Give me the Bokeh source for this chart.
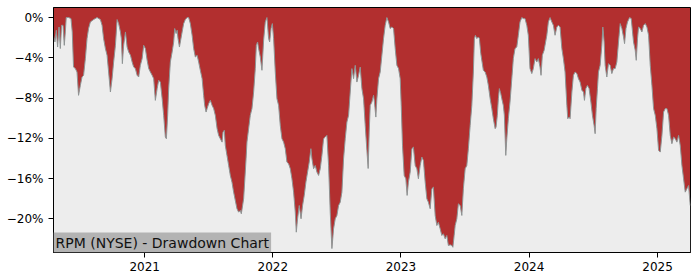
from datetime import datetime
from bokeh.plotting import figure
from bokeh.models import FixedTicker, Label, ColumnDataSource, Range1d
from bokeh.embed import file_html
from bokeh.resources import INLINE

# ---- data: dates as decimal years, drawdown in percent ----
t2020 = [2020.290, 2020.301, 2020.312, 2020.322, 2020.333, 2020.343, 2020.353, 2020.364, 2020.374, 2020.382,
         2020.389, 2020.407, 2020.426, 2020.436, 2020.446, 2020.460, 2020.473, 2020.485, 2020.499, 2020.512,
         2020.524, 2020.538, 2020.551, 2020.563, 2020.577, 2020.602, 2020.629, 2020.655, 2020.668, 2020.680,
         2020.694, 2020.707, 2020.719, 2020.733, 2020.746, 2020.758, 2020.772, 2020.785, 2020.797, 2020.811,
         2020.818, 2020.826, 2020.836, 2020.850, 2020.863, 2020.875, 2020.889, 2020.902, 2020.914, 2020.927,
         2020.941, 2020.953, 2020.966, 2020.980, 2020.992]
d2020 = [-1.76, -2.43, -1.26, -2.93, -0.94, -3.08, -0.77, -0.77, -2.76, -1.43,
         0, 0, -0.10, -1.43, -4.92, -5.07, -5.41, -7.73, -6.74, -5.91,
         -5.74, -4.08, -2.09, -1.09, -0.44, -0.20, 0, -0.20, -0.77, -2.09,
         -3.08, -3.75, -5.41, -7.40, -6.07, -4.42, -2.76, -0.20, -0.60, -1.43,
         -2.09, -4.58, -2.76, -1.43, -2.93, -3.42, -3.75, -4.42, -4.92, -5.07,
         -5.74, -5.91, -4.75, -4.08, -2.76]

t2021 = [2021.005, 2021.019, 2021.031, 2021.044, 2021.058, 2021.070, 2021.083, 2021.097, 2021.109, 2021.122,
         2021.136, 2021.148, 2021.161, 2021.169, 2021.179, 2021.187, 2021.200, 2021.214, 2021.226, 2021.234,
         2021.245, 2021.253, 2021.260, 2021.271, 2021.278, 2021.292, 2021.304, 2021.317, 2021.331, 2021.343,
         2021.356, 2021.370, 2021.382, 2021.395, 2021.409, 2021.421, 2021.434, 2021.448, 2021.460, 2021.468,
         2021.479, 2021.487, 2021.499, 2021.512, 2021.526, 2021.538, 2021.551, 2021.565, 2021.577, 2021.590,
         2021.604, 2021.611, 2021.621, 2021.629, 2021.642, 2021.655, 2021.668, 2021.681, 2021.694, 2021.707,
         2021.720, 2021.733, 2021.746, 2021.754, 2021.764, 2021.772, 2021.780, 2021.791, 2021.798, 2021.811,
         2021.824, 2021.837, 2021.850, 2021.863, 2021.871, 2021.881, 2021.889, 2021.902, 2021.915, 2021.928,
         2021.941, 2021.954, 2021.967, 2021.975, 2021.986, 2021.996]
d2021 = [-3.08, -4.25, -5.07, -5.41, -5.74, -6.07, -8.23, -7.06, -6.24, -6.41,
         -8.06, -9.72, -11.88, -12.04, -9.72, -7.06, -4.42, -3.42, -2.43, -1.09,
         -1.59, -1.26, -2.09, -2.93, -2.43, -1.43, -0.60, -0.20, 0, 0,
         -0.60, -1.76, -3.08, -3.92, -3.75, -4.42, -5.24, -6.07, -7.73, -8.73,
         -9.39, -9.05, -8.56, -8.23, -8.73, -9.05, -9.72, -11.04, -11.71, -12.04,
         -12.38, -11.38, -11.21, -12.71, -13.70, -14.70, -15.69, -16.36, -17.35, -18.18,
         -19.00, -19.34, -19.17, -19.50, -18.68, -18.01, -16.36, -14.03, -12.38, -11.04,
         -9.72, -9.05, -7.40, -5.07, -2.76, -2.43, -3.08, -3.92, -5.24, -2.26,
         -0.44, 0, -2.09, -2.43, -1.09, -0.60]

t2022 = [2022.006, 2022.019, 2022.032, 2022.045, 2022.058, 2022.071, 2022.084, 2022.097, 2022.110, 2022.123,
         2022.136, 2022.149, 2022.162, 2022.175, 2022.183, 2022.193, 2022.206, 2022.220, 2022.232, 2022.245,
         2022.258, 2022.271, 2022.284, 2022.297, 2022.305, 2022.318, 2022.331, 2022.344, 2022.357, 2022.370,
         2022.383, 2022.396, 2022.409, 2022.422, 2022.435, 2022.448, 2022.461, 2022.474, 2022.487, 2022.500,
         2022.513, 2022.526, 2022.539, 2022.552, 2022.565, 2022.578, 2022.591, 2022.604, 2022.617, 2022.630,
         2022.643, 2022.656, 2022.669, 2022.682, 2022.695, 2022.708, 2022.721, 2022.734, 2022.744, 2022.752,
         2022.760, 2022.773, 2022.786, 2022.793, 2022.804, 2022.812, 2022.825, 2022.838, 2022.851, 2022.864,
         2022.877, 2022.890, 2022.903, 2022.916, 2022.929, 2022.942, 2022.955, 2022.968, 2022.981, 2022.994]
d2022 = [-2.09, -5.41, -8.06, -8.73, -10.72, -12.04, -12.38, -13.03, -14.37, -14.53,
         -15.02, -16.02, -17.35, -19.34, -21.33, -20.00, -18.68, -20.00, -18.68, -17.68,
         -16.36, -15.36, -14.37, -13.03, -14.03, -15.02, -14.70, -15.36, -15.69, -15.02,
         -13.70, -12.04, -11.88, -11.71, -14.70, -19.34, -22.96, -21.00, -20.00, -19.67,
         -18.68, -18.35, -17.35, -14.03, -12.04, -10.39, -9.72, -7.40, -5.07, -6.07,
         -4.75, -6.41, -5.74, -4.92, -7.06, -8.06, -10.72, -13.20, -15.00, -11.38,
         -8.73, -8.40, -7.73, -8.40, -9.89, -8.06, -6.07, -5.41, -3.75, -2.09,
         -0.77, 0, -0.44, -1.09, -0.94, -1.09, -3.08, -4.75, -5.07, -6.07]

t2023 = [2023.002, 2023.012, 2023.025, 2023.038, 2023.048, 2023.058, 2023.072, 2023.085, 2023.097, 2023.111,
         2023.124, 2023.136, 2023.150, 2023.163, 2023.175, 2023.189, 2023.202, 2023.214, 2023.228, 2023.241,
         2023.253, 2023.267, 2023.280, 2023.292, 2023.306, 2023.319, 2023.331, 2023.345, 2023.358, 2023.370,
         2023.384, 2023.397, 2023.405, 2023.415, 2023.423, 2023.436, 2023.448, 2023.462, 2023.475, 2023.487,
         2023.501, 2023.514, 2023.526, 2023.540, 2023.553, 2023.565, 2023.573, 2023.581, 2023.592, 2023.604,
         2023.612, 2023.623, 2023.633, 2023.643, 2023.657, 2023.670, 2023.682, 2023.696, 2023.709, 2023.721,
         2023.735, 2023.742, 2023.752, 2023.760, 2023.768, 2023.779, 2023.787, 2023.799, 2023.807, 2023.818,
         2023.826, 2023.838, 2023.851, 2023.865, 2023.877, 2023.890, 2023.904, 2023.916, 2023.929, 2023.943,
         2023.955, 2023.968, 2023.982, 2023.994]
d2023 = [-8.73, -12.71, -15.69, -16.02, -17.68, -16.36, -15.36, -13.03, -12.88, -14.70,
         -15.02, -16.02, -14.70, -13.87, -14.20, -16.36, -18.01, -18.35, -19.00, -17.01,
         -16.86, -19.67, -20.67, -20.34, -21.00, -21.66, -21.49, -21.99, -21.66, -22.66,
         -22.59, -22.66, -22.83, -21.66, -20.67, -20.00, -18.51, -18.68, -19.67, -17.01,
         -15.02, -14.70, -13.03, -10.72, -8.73, -5.41, -2.09, -1.76, -2.09, -1.93,
         -2.09, -3.58, -4.42, -5.24, -5.41, -5.91, -6.74, -8.06, -9.05, -10.05,
         -11.04, -10.89, -9.72, -8.06, -7.06, -7.56, -8.06, -8.73, -9.72, -13.70,
         -12.04, -10.05, -8.40, -6.07, -4.08, -3.08, -2.93, -1.76, -0.44, 0,
         -0.10, -0.10, -0.77, -1.76]

t2024 = [2024.007, 2024.021, 2024.033, 2024.046, 2024.060, 2024.072, 2024.085, 2024.093, 2024.103, 2024.117,
         2024.138, 2024.150, 2024.163, 2024.177, 2024.189, 2024.202, 2024.216, 2024.228, 2024.241, 2024.255,
         2024.267, 2024.280, 2024.294, 2024.301, 2024.312, 2024.319, 2024.333, 2024.345, 2024.358, 2024.372,
         2024.384, 2024.397, 2024.411, 2024.423, 2024.431, 2024.442, 2024.454, 2024.467, 2024.481, 2024.493,
         2024.506, 2024.514, 2024.522, 2024.532, 2024.540, 2024.553, 2024.566, 2024.574, 2024.584, 2024.592,
         2024.605, 2024.618, 2024.631, 2024.644, 2024.657, 2024.670, 2024.683, 2024.696, 2024.709, 2024.722,
         2024.735, 2024.743, 2024.754, 2024.766, 2024.782, 2024.795, 2024.805, 2024.813, 2024.826, 2024.834,
         2024.844, 2024.852, 2024.865, 2024.878, 2024.891, 2024.904, 2024.917, 2024.930, 2024.943, 2024.956,
         2024.969, 2024.982, 2024.995]
d2024 = [-5.07, -5.57, -5.07, -4.08, -4.42, -4.08, -4.92, -5.74, -3.75, -3.25,
         -1.76, -0.44, 0, -0.44, -0.77, -1.76, -0.94, -0.77, -0.94, -3.08,
         -4.08, -5.41, -8.73, -10.05, -9.89, -10.05, -7.40, -5.74, -5.41, -5.57,
         -6.07, -6.41, -7.23, -7.40, -8.23, -7.06, -6.74, -7.06, -8.40, -9.72,
         -10.72, -11.54, -9.05, -7.06, -5.41, -4.75, -2.76, -0.94, -2.43, -4.75,
         -5.91, -4.58, -4.75, -5.57, -5.07, -5.07, -4.42, -2.43, -0.60, -1.09,
         -1.93, -2.59, -1.09, -0.44, 0, -0.10, -1.43, -2.43, -3.25, -4.25,
         -2.09, -0.94, -1.09, -1.43, -0.77, -0.60, -0.94, -1.76, -4.75, -6.74,
         -9.05, -9.72, -11.04]

t2025 = [2025.008, 2025.021, 2025.034, 2025.047, 2025.060, 2025.073, 2025.086, 2025.099, 2025.112, 2025.125,
         2025.138, 2025.151, 2025.164, 2025.177, 2025.190, 2025.203, 2025.216, 2025.229, 2025.242, 2025.255]
d2025 = [-13.20, -13.37, -11.71, -9.39, -9.05, -9.05, -9.72, -11.71, -12.54, -11.88,
         -12.04, -12.38, -11.71, -12.71, -14.70, -16.02, -17.35, -17.01, -16.69, -18.68]

y_ticks = [0, -4, -8, -12, -16, -20]
y_tick_labels = ["0%", "\u22124%", "\u22128%", "\u221212%", "\u221216%", "\u221220%"]
x_tick_years = [2021, 2022, 2023, 2024, 2025]
title_text = "RPM (NYSE) - Drawdown Chart"

years = t2020 + t2021 + t2022 + t2023 + t2024 + t2025
dd = d2020 + d2021 + d2022 + d2023 + d2024 + d2025
assert len(years) == len(dd), (len(years), len(dd))


def dec_to_dt(y):
    yr = int(y)
    s = datetime(yr, 1, 1)
    e = datetime(yr + 1, 1, 1)
    return s + (e - s) * (y - yr)


EPOCH = datetime(1970, 1, 1)


def ms(d):
    return (d - EPOCH).total_seconds() * 1000.0


src = ColumnDataSource(dict(date=[dec_to_dt(y) for y in years], dd=dd))

RED = "#b22f2f"
GREY = "#ededed"

p = figure(width=700, height=280, x_axis_type="datetime", output_backend="svg",
           toolbar_location=None,
           x_range=Range1d(dec_to_dt(2020.290), dec_to_dt(2025.257)),
           y_range=Range1d(-23.35, 1.0),
           min_border_left=53, min_border_right=10, min_border_top=7, min_border_bottom=28)

p.background_fill_color = RED
p.border_fill_color = "white"
p.outline_line_color = "black"
p.outline_line_width = 1
p.xgrid.visible = False
p.ygrid.visible = False

p.varea(x="date", y1="dd", y2=-40, source=src, fill_color=GREY)
p.line(x="date", y="dd", source=src, line_color="#8e9494", line_width=1)

# axes
p.yaxis.ticker = FixedTicker(ticks=y_ticks)
p.yaxis.major_label_overrides = {t: l for t, l in zip(y_ticks, y_tick_labels)}
xt = [ms(datetime(y, 1, 1)) for y in x_tick_years]
p.xaxis.ticker = FixedTicker(ticks=xt)
p.xaxis.major_label_overrides = {t: str(y) for t, y in zip(xt, x_tick_years)}

for ax in (p.xaxis[0], p.yaxis[0]):
    ax.axis_line_color = "black"
    ax.major_tick_line_color = "black"
    ax.major_tick_out = 5
    ax.major_tick_in = 0
    ax.minor_tick_line_color = None
    ax.major_label_text_font = "DejaVu Sans"
    ax.major_label_text_font_size = "12px"
    ax.major_label_text_color = "black"
p.xaxis.major_label_standoff = 4
p.yaxis.major_label_standoff = 5

lbl = Label(x=0, y=0, x_units="screen", y_units="screen", text=title_text,
            text_font="DejaVu Sans", text_font_size="14px", text_color="#111111",
            background_fill_color="#b3b3b3", padding=2,
            text_align="left", text_baseline="bottom")
p.add_layout(lbl)

open("out.html", "w").write(file_html(p, INLINE))
